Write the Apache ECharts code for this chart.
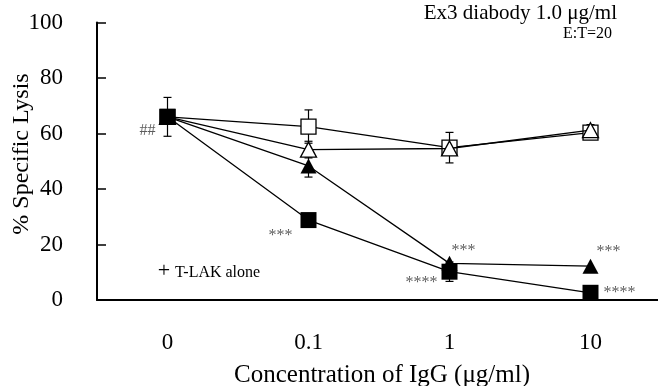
<!DOCTYPE html>
<html><head><meta charset="utf-8">
<script src="https://cdn.jsdelivr.net/npm/echarts@6/dist/echarts.min.js"></script>
<style>html,body{margin:0;padding:0;background:#fff}#c{width:658px;height:386px}</style>
</head><body><div id="c"></div>
<script>
const categories = ['0', '0.1', '1', '10'];
const yTicks = [0, 20, 40, 60, 80, 100];
const filledSquare = [66, 28.8, 10.2, 2.6];
const filledTriangle = [66, 48.3, 13.2, 12.2];
const openTriangle = [66, 54.2, 54.6, 61.2];
const openSquare = [66, 62.5, 54.9, 60.3];
const errFilledSquare = [7, 0, 3.5, 0];
const errFilledTriangle = [0, 4, 0, 0];
const errOpenTriangle = [0, 3, 0, 2];
const errOpenSquare = [0, 6, 5.5, 0];
// annotations: [category index, value, text]
const annotations = [
  [0, 61, '##'],
  [1, 23, '***'],
  [2, 17.7, '***'],
  [2, 6.1, '****'],
  [3, 17.3, '***'],
  [3, 2.5, '****']
];
const annOffsets = [[-12,'right'],[-16,'right'],[2,'left'],[-12,'right'],[6,'left'],[13,'left']];

const FONT = '"Liberation Serif", "Times New Roman", serif';
const chart = echarts.init(document.getElementById('c'));

function lineSeries(name, data, symbol, size, filled, z) {
  return {
    name, type: 'line', data, symbol, symbolSize: size, z,
    showAllSymbol: true,
    lineStyle: { color: '#000', width: 1.3 },
    itemStyle: { color: filled ? '#000' : '#fff', borderColor: '#000', borderWidth: filled ? 0 : 1.3 },
    emphasis: { disabled: true }, animation: false
  };
}
function errSeries(vals, errs, z) {
  const d = vals.map((v, i) => [i, v, errs[i]]).filter(r => r[2] > 0);
  return {
    type: 'custom', z, animation: false, silent: true,
    renderItem: (params, api) => {
      const x = api.value(0), v = api.value(1), e = api.value(2);
      const top = api.coord([x, v + e]), bot = api.coord([x, v - e]);
      const cw = 4;
      return { type: 'group', children: [
        { type: 'line', shape: { x1: top[0], y1: top[1], x2: bot[0], y2: bot[1] }, style: { stroke: '#000', lineWidth: 1.2 } },
        { type: 'line', shape: { x1: top[0]-cw, y1: top[1], x2: top[0]+cw, y2: top[1] }, style: { stroke: '#000', lineWidth: 1.2 } },
        { type: 'line', shape: { x1: bot[0]-cw, y1: bot[1], x2: bot[0]+cw, y2: bot[1] }, style: { stroke: '#000', lineWidth: 1.2 } }
      ]};
    },
    data: d
  };
}

chart.setOption({
  animation: false,
  grid: { left: 97, right: -3, top: 22.5, bottom: 86, containLabel: false, outerBoundsMode: 'none' },
  xAxis: {
    type: 'category', data: categories, boundaryGap: true,
    axisLine: { lineStyle: { color: '#000', width: 2 } },
    axisTick: { show: false },
    axisLabel: { color: '#000', fontFamily: FONT, fontSize: 23, margin: 31 },
    splitLine: { show: false }
  },
  yAxis: {
    type: 'value', min: 0, max: 100, interval: 20,
    axisLine: { show: true, lineStyle: { color: '#000', width: 2 } },
    axisTick: { show: true, inside: true, length: 9, lineStyle: { color: '#000', width: 1.5 } },
    axisLabel: { color: '#000', fontFamily: FONT, fontSize: 23, margin: 34,
      formatter: v => yTicks.includes(v) ? String(v) : '' },
    splitLine: { show: false }
  },
  series: [
    errSeries(openSquare, errOpenSquare, 1),
    errSeries(openTriangle, errOpenTriangle, 1),
    errSeries(filledTriangle, errFilledTriangle, 1),
    errSeries(filledSquare, errFilledSquare, 1),
    lineSeries('open square', openSquare, 'rect', 15, false, 2),
    lineSeries('open triangle', openTriangle, 'triangle', [16, 15], false, 3),
    lineSeries('filled triangle', filledTriangle, 'triangle', [16, 15], true, 4),
    lineSeries('filled square', filledSquare, 'rect', 16, true, 5),
    {
      type: 'scatter', symbol: 'circle', symbolSize: 1, silent: true, z: 6,
      itemStyle: { color: 'rgba(0,0,0,0)' },
      data: annotations.map((a, i) => ({
        value: [a[0], a[1]],
        label: { show: true, formatter: a[2], position: 'inside', offset: [annOffsets[i][0], 0],
          align: annOffsets[i][1], color: '#333', fontFamily: FONT, fontSize: 16, verticalAlign: 'middle' }
      }))
    }
  ],
  graphic: [
    { type: 'text', x: 617, y: 13, style: { text: 'Ex3 diabody 1.0 μg/ml', font: '21px ' + FONT, fill: '#000', textAlign: 'right', textVerticalAlign: 'middle' } },
    { type: 'text', x: 612, y: 34, style: { text: 'E:T=20', font: '16px ' + FONT, fill: '#000', textAlign: 'right', textVerticalAlign: 'middle' } },
    { type: 'text', x: 164, y: 271, style: { text: '+', font: '22px ' + FONT, fill: '#000', textAlign: 'center', textVerticalAlign: 'middle' } },
    { type: 'text', x: 175, y: 273, style: { text: 'T-LAK alone', font: '16px ' + FONT, fill: '#000', textAlign: 'left', textVerticalAlign: 'middle' } },
    { type: 'text', x: 22, y: 154, rotation: Math.PI / 2, style: { text: '% Specific Lysis', font: '24px ' + FONT, fill: '#000', textAlign: 'center', textVerticalAlign: 'middle' } },
    { type: 'text', x: 382, y: 375, style: { text: 'Concentration of IgG (μg/ml)', font: '25px ' + FONT, fill: '#000', textAlign: 'center', textVerticalAlign: 'middle' } }
  ]
});
</script></body></html>
